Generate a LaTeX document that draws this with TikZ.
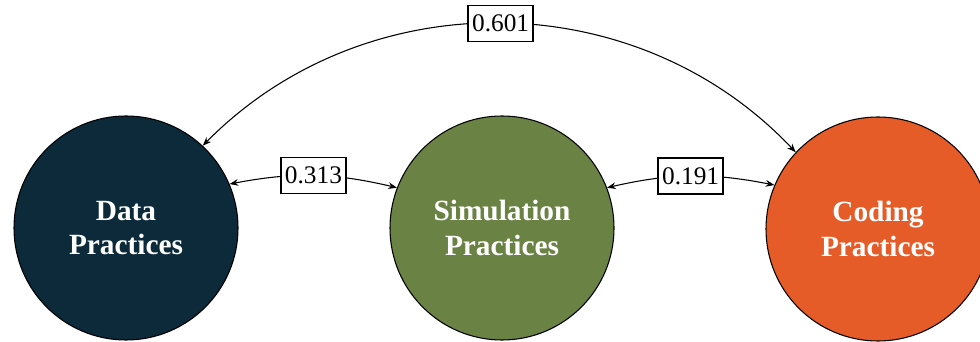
\documentclass[tikz,border=0pt]{standalone}
\usepackage{fontspec}
\setmainfont{Liberation Serif}
\usetikzlibrary{positioning,arrows.meta}

\definecolor{dataBlue}{HTML}{0C2A3A}
\definecolor{simGreen}{HTML}{6A8244}
\definecolor{codeOrange}{HTML}{E65C28}

\begin{document}
\begin{tikzpicture}[
    x=0.75pt, y=0.75pt,
    practice/.style={circle, draw=black, line width=0.8pt, minimum size=168pt, inner sep=0pt,
        align=center, text=white, font=\fontsize{22}{26}\selectfont\bfseries},
    weight/.style={draw, line width=1pt, fill=white, font=\fontsize{19}{22}\selectfont,
        inner xsep=3pt, inner ysep=0pt, minimum height=27pt},
    link/.style={{Stealth[length=6.5pt,width=5pt]}-{Stealth[length=6.5pt,width=5pt]}, line width=0.8pt}
]
\useasboundingbox (0,0) rectangle (980,342);
\node[practice, fill=dataBlue] (data) at (126,114) {Data\\Practices};
\node[practice, fill=simGreen] (sim) at (502,114) {Simulation\\Practices};
\node[practice, fill=codeOrange] (coding) at (878,113) {Coding\\Practices};

\draw[link] (data.47) to[bend left=46] node[weight] {0.601} (coding.137);
\draw[link] (data.23) to[bend left=12] node[weight] {0.313} (sim.159);
\draw[link] (sim.21) to[bend left=12] node[weight] {0.191} (coding.157);
\end{tikzpicture}
\end{document}
